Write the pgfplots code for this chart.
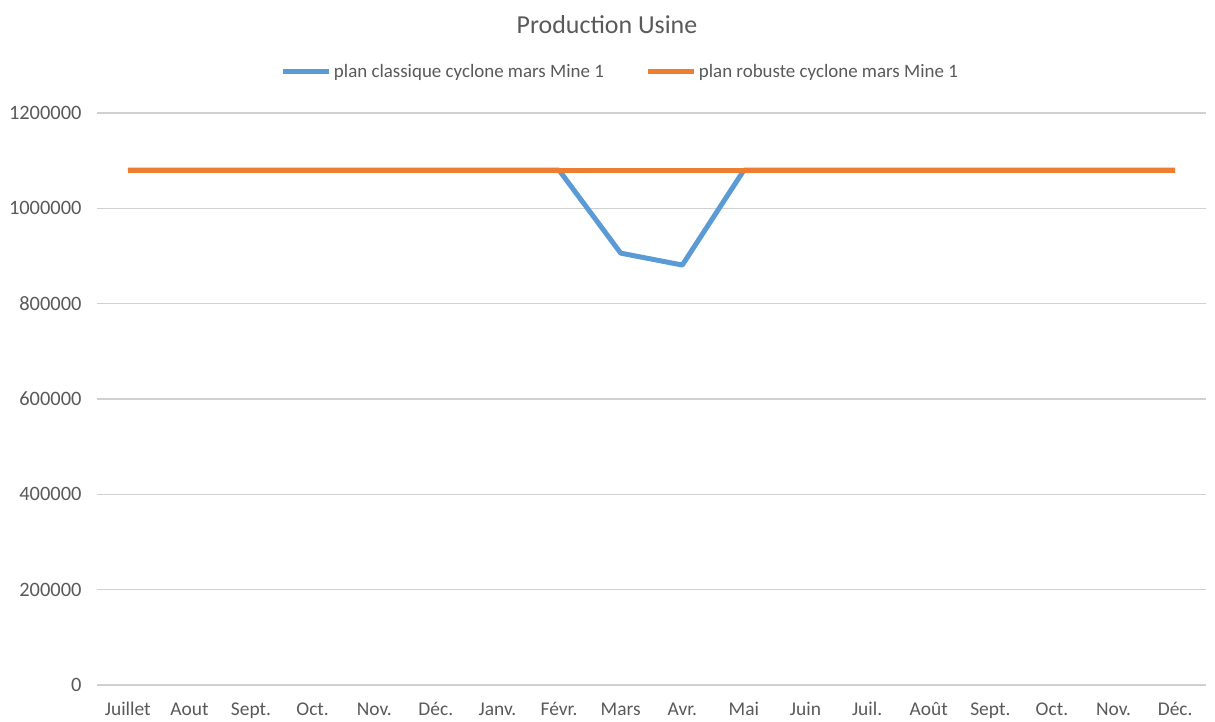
\documentclass[border=0pt]{standalone}
\usepackage{fontspec}
\setmainfont{Carlito}
\usepackage{pgfplots}
\pgfplotsset{compat=1.18}
\definecolor{cblue}{HTML}{5B9BD5}
\definecolor{corange}{HTML}{ED7D31}
\definecolor{ctext}{HTML}{595959}
\definecolor{cgrid}{HTML}{D0D0D0}
\begin{document}
\begin{tikzpicture}[x=1bp,y=1bp]
\useasboundingbox (0,0) rectangle (1215,722);
\node[text=ctext, font=\fontsize{26}{30}\selectfont] at (607,697) {Production Usine};
\begin{axis}[
  at={(97bp,37bp)}, anchor=south west,
  scale only axis, width=1109bp, height=572bp,
  xmin=-0.5, xmax=17.5, ymin=0, ymax=1200000,
  xtick={0,...,17},
  xticklabels={Juillet,Aout,Sept.,Oct.,Nov.,Déc.,Janv.,Févr.,Mars,Avr.,Mai,Juin,Juil.,Août,Sept.,Oct.,Nov.,Déc.},
  ytick={0,200000,400000,600000,800000,1000000,1200000},
  scaled y ticks=false,
  /pgf/number format/.cd, fixed, 1000 sep={}, assume math mode=true, /pgfplots/.cd,
  axis line style={draw=none},
  major tick length=0pt,
  ymajorgrids, grid style={cgrid, line width=1.5bp},
  tick label style={text=ctext, font=\fontsize{19.5}{22}\selectfont},
  yticklabel style={xshift=-12bp, font=\fontsize{20.5}{22}\selectfont},
  xticklabel style={anchor=base, yshift=-31bp},
  legend columns=2,
  legend style={draw=none, fill=none, at={(0.472,1.073)}, anchor=center,
    font=\fontsize{19}{22}\selectfont, text=ctext,
    /tikz/every even column/.append style={column sep=40bp},
    inner sep=0pt},
  legend image code/.code={\draw[#1, line width=5bp] (0bp,0bp) -- (46bp,0bp);},
]
\addplot[cblue, line width=5bp, line join=round] coordinates {
(0,1080000)(1,1080000)(2,1080000)(3,1080000)(4,1080000)(5,1080000)(6,1080000)(7,1080000)
(8,906000)(9,881000)(10,1080000)(11,1080000)(12,1080000)(13,1080000)(14,1080000)(15,1080000)(16,1080000)(17,1080000)};
\addlegendentry{plan classique cyclone mars Mine 1}
\addplot[corange, line width=5bp] coordinates {
(0,1080000)(1,1080000)(2,1080000)(3,1080000)(4,1080000)(5,1080000)(6,1080000)(7,1080000)
(8,1080000)(9,1080000)(10,1080000)(11,1080000)(12,1080000)(13,1080000)(14,1080000)(15,1080000)(16,1080000)(17,1080000)};
\addlegendentry{plan robuste cyclone mars Mine 1}
\end{axis}
\end{tikzpicture}
\end{document}
